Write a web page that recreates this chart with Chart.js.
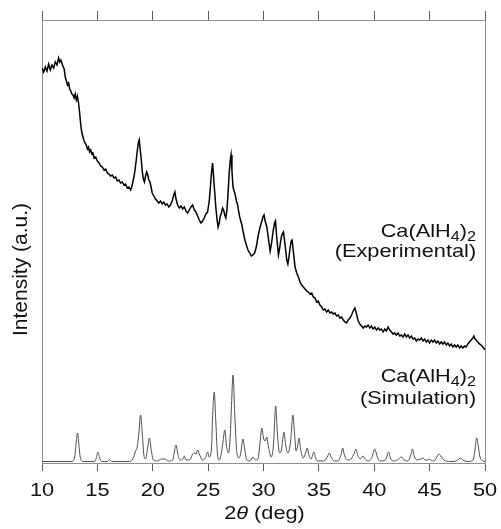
<!DOCTYPE html>
<html>
<head>
<meta charset="utf-8">
<script src="https://cdn.jsdelivr.net/npm/chart.js@4"></script>
<style>
    html, body { margin: 0; padding: 0; background: #ffffff; }
    canvas { display: block; }
</style>
</head>
<body>
<canvas id="xrdChart" width="501" height="529"></canvas>
<script>
// Measured pattern, 2θ in degrees
const expAngle = [
    10.0, 10.15, 10.3, 10.45, 10.6, 10.75, 10.9, 11.05, 11.2, 11.35, 11.5, 11.6, 11.7, 11.85,
    12.0, 12.1, 12.2, 12.3, 12.4, 12.5, 12.6, 12.7, 12.8, 12.9, 13.0, 13.1, 13.2, 13.3, 13.4,
    13.5, 13.6, 13.7, 13.8, 13.9, 14.0, 14.1, 14.2, 14.3, 14.4, 14.5, 14.6, 14.7, 14.85,
    15.0, 15.15, 15.3, 15.45, 15.6, 15.75, 15.9, 16.05, 16.2, 16.35, 16.5, 16.65, 16.8, 16.95,
    17.1, 17.25, 17.4, 17.55, 17.7, 17.85, 18.0, 18.1, 18.2, 18.3, 18.4, 18.5, 18.6, 18.7,
    18.78, 18.85, 18.95, 19.05, 19.15, 19.25, 19.35, 19.45, 19.55, 19.65, 19.75, 19.85, 19.95,
    20.1, 20.25, 20.4, 20.55, 20.7, 20.85, 21.0, 21.15, 21.3, 21.45, 21.6, 21.75, 21.9, 22.0,
    22.1, 22.25, 22.4, 22.55, 22.7, 22.85, 23.0, 23.15, 23.3, 23.45, 23.6, 23.75, 23.9, 24.05,
    24.2, 24.35, 24.5, 24.65, 24.8, 24.95, 25.1, 25.2, 25.3, 25.4, 25.5, 25.6, 25.7, 25.8,
    25.9, 26.0, 26.1, 26.2, 26.3, 26.4, 26.5, 26.6, 26.7, 26.8, 26.9, 27.0, 27.07, 27.15,
    27.25, 27.35, 27.45, 27.55, 27.65, 27.75, 27.85, 27.95, 28.05, 28.15, 28.3, 28.45, 28.6,
    28.75, 28.9, 29.05, 29.2, 29.35, 29.5, 29.65, 29.8, 29.95, 30.05, 30.15, 30.3, 30.45,
    30.6, 30.7, 30.8, 30.9, 31.0, 31.08, 31.2, 31.35, 31.45, 31.55, 31.65, 31.8, 31.95,
    32.1, 32.2, 32.3, 32.4, 32.5, 32.58, 32.7, 32.85, 33.0, 33.15, 33.3, 33.45, 33.6, 33.75,
    33.9, 34.05, 34.2, 34.35, 34.5, 34.65, 34.8, 34.95, 35.1, 35.25, 35.4, 35.55, 35.7, 35.85,
    36.0, 36.15, 36.3, 36.45, 36.6, 36.75, 36.9, 37.05, 37.2, 37.35, 37.5, 37.65, 37.8, 37.95,
    38.1, 38.25, 38.4, 38.55, 38.7, 38.85, 39.0, 39.15, 39.3, 39.45, 39.6, 39.75, 39.9, 40.05,
    40.2, 40.35, 40.5, 40.65, 40.8, 40.95, 41.1, 41.25, 41.4, 41.55, 41.7, 41.85, 42.0, 42.15,
    42.3, 42.45, 42.6, 42.75, 42.9, 43.05, 43.2, 43.35, 43.5, 43.65, 43.8, 43.95, 44.1, 44.25,
    44.4, 44.55, 44.7, 44.85, 45.0, 45.15, 45.3, 45.45, 45.6, 45.75, 45.9, 46.05, 46.2, 46.35,
    46.5, 46.65, 46.8, 46.95, 47.1, 47.25, 47.4, 47.55, 47.7, 47.85, 48.0, 48.15, 48.3, 48.45,
    48.6, 48.75, 48.9, 49.0, 49.1, 49.2, 49.35, 49.5, 49.65, 49.8, 49.95, 50.0,
];
const expIntensity = [
    395, 391, 396, 392, 399, 393, 398, 395, 401, 398, 405, 401, 403, 398,
    394, 386, 382, 378, 380, 374, 372, 369, 368, 365, 369, 363, 367, 360, 350,
    338, 330, 326, 322, 320, 318, 314, 316, 311, 313, 309, 310, 305, 306,
    302, 300, 297, 296, 293, 294, 290, 289, 287, 288, 285, 286, 282, 283,
    280, 281, 278, 279, 275, 276, 273, 276, 281, 286, 293, 302, 312, 320,
    323, 315, 305, 292, 284, 281, 287, 291, 288, 283, 281, 276, 270,
    267, 264, 262, 260, 262, 259, 261, 258, 259, 256, 258, 262, 268, 271,
    264, 258, 255, 257, 254, 256, 252, 250, 253, 256, 258, 253, 251, 247,
    243, 240, 242, 245, 249, 251, 262, 275, 290, 300, 285, 270, 255, 244,
    236, 240, 247, 250, 255, 253, 248, 245, 253, 270, 290, 303, 308, 292,
    276, 272, 268, 262, 259, 252, 246, 242, 238, 232, 224, 218, 213,
    210, 207, 208, 210, 216, 226, 234, 240, 246, 248, 242, 236, 224,
    212, 218, 226, 234, 240, 242, 225, 208, 214, 222, 228, 231, 218,
    203, 199, 206, 215, 222, 223, 211, 196, 190, 186, 181, 178, 176, 174,
    172, 171, 169, 170, 166, 165, 161, 162, 158, 156, 153, 154, 151, 153,
    150, 151, 149, 150, 147, 148, 145, 146, 143, 141, 140, 143, 145, 148,
    152, 155, 149, 142, 139, 137, 135, 137, 136, 138, 135, 137, 134, 136,
    133, 135, 133, 134, 131, 134, 132, 136, 133, 131, 129, 130, 128, 130,
    127, 128, 126, 129, 126, 128, 125, 127, 124, 125, 122, 124, 123, 125,
    122, 124, 121, 123, 120, 123, 121, 123, 120, 122, 119, 121, 119, 121,
    118, 120, 117, 119, 116, 118, 116, 118, 115, 117, 115, 117, 116, 119,
    121, 123, 125, 127, 124, 123, 121, 119, 118, 116, 114, 115,
];

// Simulated pattern, 2θ in degrees
const simAngle = [
    10.0, 12.7, 12.95, 13.1, 13.2, 13.3, 13.45, 13.7, 14.75, 14.9, 15.05, 15.2, 15.4, 15.9,
    16.1, 16.3, 17.9, 18.2, 18.45, 18.6, 18.75, 18.9, 19.05, 19.2, 19.35, 19.55, 19.7, 19.85,
    20.05, 20.4, 20.8, 21.1, 21.4, 21.8, 21.95, 22.1, 22.25, 22.45, 22.7, 22.85, 23.0, 23.4,
    23.6, 23.75, 23.9, 24.05, 24.2, 24.5, 24.75, 24.95, 25.1, 25.3, 25.4, 25.55, 25.7, 25.85,
    26.0, 26.2, 26.35, 26.5, 26.65, 26.85, 27.0, 27.1, 27.25, 27.4, 27.6, 27.8, 27.95, 28.15,
    28.3, 28.5, 28.8, 29.05, 29.25, 29.5, 29.7, 29.85, 30.0, 30.15, 30.3, 30.45, 30.7, 30.9,
    31.1, 31.25, 31.45, 31.6, 31.75, 31.85, 32.0, 32.2, 32.45, 32.65, 32.8, 32.95, 33.1, 33.2,
    33.35, 33.6, 33.8, 33.95, 34.1, 34.3, 34.55, 34.7, 34.9, 35.3, 35.6, 35.8, 35.95, 36.1,
    36.4, 36.7, 37.0, 37.15, 37.3, 37.6, 37.9, 38.2, 38.35, 38.5, 38.75, 39.0, 39.15, 39.5,
    39.8, 40.05, 40.25, 40.5, 41.0, 41.15, 41.3, 41.45, 41.8, 42.2, 42.45, 42.7, 43.0, 43.3,
    43.45, 43.6, 43.9, 44.2, 44.4, 44.6, 44.8, 45.0, 45.2, 45.5, 45.7, 45.85, 46.0, 46.3,
    46.8, 47.4, 47.65, 47.8, 48.0, 48.4, 48.8, 49.0, 49.1, 49.25, 49.4, 49.55, 49.8, 50.0,
];
const simIntensity = [
    1.5, 1.5, 6, 22, 30, 22, 6, 1.5, 1.5, 5, 11, 5, 1.5, 1.5,
    3.5, 1.5, 1.5, 4, 12, 16, 30, 48, 30, 8, 4, 16, 25, 14,
    3, 2, 4, 4, 2, 3, 11, 18, 10, 3, 4, 7, 3, 4,
    9, 10, 9, 13, 9, 3, 5, 11, 6, 14, 45, 71, 40, 8,
    3, 10, 22, 33, 18, 10, 28, 55, 88, 50, 10, 5, 10, 24,
    14, 3, 2, 6, 3, 4, 22, 35, 25, 22, 26, 16, 6, 18,
    57, 30, 10, 12, 25, 31, 18, 10, 22, 48, 30, 12, 18, 25,
    14, 5, 10, 15, 8, 4, 11, 5, 2, 2, 3, 7, 10, 6,
    2, 2, 8, 15, 8, 3, 4, 10, 14, 8, 4, 7, 4, 2,
    6, 14, 7, 2, 3, 7, 11, 5, 2, 4, 6, 3, 2, 8,
    14, 7, 3, 4, 5, 3, 3, 4, 2, 3, 7, 9, 7, 3,
    1.5, 2, 4, 5, 3, 1.5, 2, 6, 14, 25, 16, 6, 2, 1.5,
];

const expLabel = ["Ca(AlH", "4", ")", "2"];
const expNote = "(Experimental)";
const simNote = "(Simulation)";

const FONT = "Arial, 'Liberation Sans', sans-serif";
const INK = "#111111";
const FRAME = "#8e8e8e";
const TICK = "#5a5a5a";
const STRETCH = 1.17;

function toPoints(xs, ys) {
    return xs.map((x, i) => ({ x: x, y: ys[i] }));
}

// draws a run of text pieces (normal, italic, subscript) on one baseline
function drawRich(ctx, parts, x, y, align, size) {
    const fontOf = (p) => (p.italic ? "italic " : "") + (p.sub ? size * 0.75 : size) + "px " + FONT;
    let width = 0;
    parts.forEach((p) => {
        ctx.font = fontOf(p);
        width += ctx.measureText(p.text).width * STRETCH;
    });
    let cx = align === "right" ? x - width : align === "center" ? x - width / 2 : x;
    ctx.textAlign = "left";
    ctx.textBaseline = "alphabetic";
    parts.forEach((p) => {
        ctx.font = fontOf(p);
        ctx.save();
        ctx.translate(cx, y + (p.sub ? size * 0.22 : 0));
        ctx.scale(STRETCH, 1);
        ctx.fillText(p.text, 0, 0);
        ctx.restore();
        cx += ctx.measureText(p.text).width * STRETCH;
    });
}

function formula() {
    return [
        { text: expLabel[0] },
        { text: expLabel[1], sub: true },
        { text: expLabel[2] },
        { text: expLabel[3], sub: true },
    ];
}

const textPlugin = {
    id: "textPlugin",
    afterDraw(chart) {
        const ctx = chart.ctx;
        const xScale = chart.scales.x;
        const yScale = chart.scales.y;
        ctx.save();
        ctx.fillStyle = INK;

        xScale.ticks.forEach((tick) => {
            drawRich(ctx, [{ text: String(tick.value) }], xScale.getPixelForValue(tick.value), 495.5, "center", 18.6);
        });

        drawRich(ctx, [{ text: "2" }, { text: "θ", italic: true }, { text: " (deg)" }],
            (chart.chartArea.left + chart.chartArea.right) / 2 + 1, 519, "center", 18.6);

        const right = xScale.getPixelForValue(49.2);
        drawRich(ctx, formula(), right, yScale.getPixelForValue(226), "right", 18.6);
        drawRich(ctx, [{ text: expNote }], right, yScale.getPixelForValue(206), "right", 18.6);
        drawRich(ctx, formula(), right, yScale.getPixelForValue(81), "right", 18.6);
        drawRich(ctx, [{ text: simNote }], right, yScale.getPixelForValue(59), "right", 18.6);

        ctx.translate(27, 269.5);
        ctx.rotate(-Math.PI / 2);
        ctx.font = "21px " + FONT;
        ctx.textAlign = "center";
        ctx.textBaseline = "alphabetic";
        ctx.fillText("Intensity (a.u.)", 0, 0);
        ctx.restore();
    },
};

function frameAxis(position, size, tickLength) {
    const horizontal = position === "top" || position === "bottom";
    return {
        type: "linear",
        position: position,
        min: horizontal ? 10 : 0,
        max: horizontal ? 50 : 443,
        ticks: horizontal ? { display: false, stepSize: 5 } : { display: false },
        grid: horizontal
            ? { drawOnChartArea: false, drawTicks: true, tickLength: tickLength, color: TICK, lineWidth: 1 }
            : { display: false },
        border: { display: true, color: FRAME, width: 1 },
        afterFit: (scale) => {
            if (horizontal) {
                scale.height = size;
            } else {
                scale.width = size;
            }
        },
    };
}

new Chart(document.getElementById("xrdChart"), {
    type: "line",
    data: {
        datasets: [
            {
                label: "Experimental",
                data: toPoints(expAngle, expIntensity),
                borderColor: "#000000",
                borderWidth: 1.5,
                pointRadius: 0,
                tension: 0,
                xAxisID: "x",
                yAxisID: "y",
            },
            {
                label: "Simulation",
                data: toPoints(simAngle, simIntensity),
                borderColor: "#4d4d4d",
                borderWidth: 1,
                pointRadius: 0,
                cubicInterpolationMode: "monotone",
                xAxisID: "x",
                yAxisID: "y",
            },
        ],
    },
    options: {
        responsive: false,
        animation: false,
        devicePixelRatio: 1,
        layout: { padding: 0 },
        plugins: {
            legend: { display: false },
            tooltip: { enabled: false },
        },
        scales: {
            x: frameAxis("bottom", 66, 8),
            xTop: frameAxis("top", 20, 9),
            y: frameAxis("left", 42, 0),
            yRight: frameAxis("right", 16, 0),
        },
    },
    plugins: [textPlugin],
});
</script>
</body>
</html>
